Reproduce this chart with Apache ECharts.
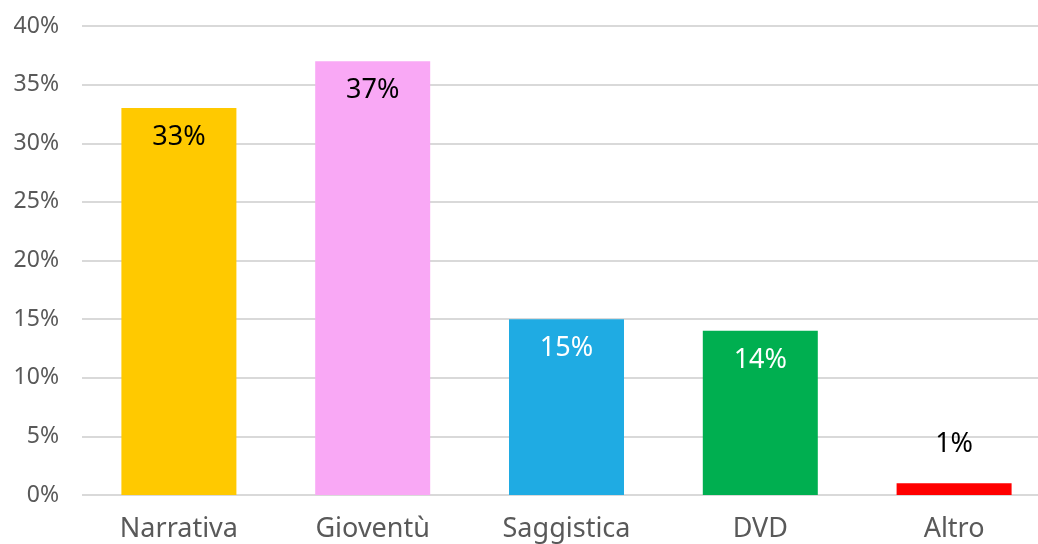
<!DOCTYPE html>
<html>
<head>
<meta charset="utf-8">
<script src="https://cdn.jsdelivr.net/npm/echarts@6/dist/echarts.min.js"></script>
<style>html,body{margin:0;padding:0;background:#fff}#c{width:1038px;height:544px}</style>
</head>
<body>
<div id="c"></div>
<script>
const categories = ['Narrativa', 'Gioventù', 'Saggistica', 'DVD', 'Altro'];
const values = [33, 37, 15, 14, 1];
const colors = ['#FFC900', '#F9A8F5', '#1FABE3', '#00AF50', '#FF0000'];
const labelColors = ['#000000', '#000000', '#ffffff', '#ffffff', '#000000'];
const yTicks = [0, 5, 10, 15, 20, 25, 30, 35, 40];

const font = '"Noto Sans", "Open Sans", sans-serif';
const chart = echarts.init(document.getElementById('c'));
chart.setOption({
  animation: false,
  grid: { left: 82, width: 969, top: 26, height: 469, containLabel: false, outerBoundsMode: 'none' },
  xAxis: {
    type: 'category',
    data: categories,
    axisLine: { show: false },
    axisTick: { show: false },
    axisLabel: { color: '#595959', fontSize: 27, fontFamily: font, margin: 21 }
  },
  yAxis: {
    type: 'value',
    min: yTicks[0],
    max: yTicks[yTicks.length - 1],
    interval: 5,
    axisLine: { show: false },
    axisTick: { show: false },
    splitLine: { lineStyle: { color: '#D9D9D9', width: 2 } },
    axisLabel: { color: '#595959', fontSize: 23, fontFamily: font, margin: 23, formatter: v => v + '%' }
  },
  series: [{
    type: 'bar',
    barWidth: 115,
    data: values.map((v, i) => ({
      value: v,
      itemStyle: { color: colors[i] },
      label: v < 5 ? { position: 'top', distance: 25, color: labelColors[i] } : { position: 'insideTop', distance: 16, color: labelColors[i] }
    })),
    label: { show: true, fontSize: 27, fontFamily: font, formatter: p => p.value + '%' }
  }]
});
</script>
</body>
</html>
